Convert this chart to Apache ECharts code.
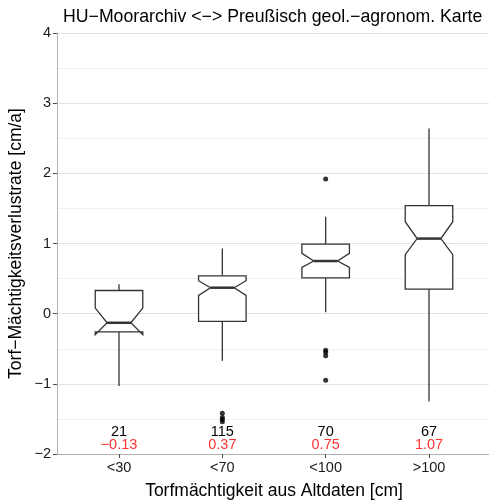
<!DOCTYPE html>
<html>
<head>
<meta charset="utf-8">
<script src="https://cdn.jsdelivr.net/npm/echarts@6/dist/echarts.min.js"></script>
<style>
  html, body { margin: 0; padding: 0; background: #fff; }
  #chart { width: 489px; height: 502px; }
</style>
</head>
<body>
<div id="chart"></div>
<script>
// Daten
const categories = ['<30', '<70', '<100', '>100'];
const whiskerLow = [-1.03, -0.67, 0.02, -1.25];
const lowerHinge = [-0.26, -0.11, 0.51, 0.35];
const medians = [-0.13, 0.37, 0.75, 1.07];
const upperHinge = [0.33, 0.54, 0.99, 1.54];
const whiskerHigh = [0.42, 0.93, 1.38, 2.64];
const notchLow = [-0.30, 0.26, 0.66, 0.84];
const notchHigh = [0.08, 0.47, 0.86, 1.31];
const counts = [21, 115, 70, 67];
// [Kategorie-Nr., Wert]
const outliers = [
    [2, -1.42], [2, -1.48], [2, -1.51], [2, -1.54],
    [3, 1.92], [3, -0.52], [3, -0.55], [3, -0.60], [3, -0.95]
];

const FONT = '"Liberation Sans", Arial, sans-serif';
const minus = s => String(s).replace('-', '\u2212');

const boxData = categories.map((c, i) => [
    i + 1, whiskerLow[i], lowerHinge[i], medians[i], upperHinge[i],
    whiskerHigh[i], notchLow[i], notchHigh[i]
]);
const labelData = categories.map((c, i) => [i + 1, counts[i], medians[i]]);

const chart = echarts.init(document.getElementById('chart'), null, { renderer: 'canvas' });

function renderBox(params, api) {
    const x = api.value(0);
    const w = api.size([0.46, 0])[0];
    const c = api.coord([x, 0])[0];
    const xmin = c - w / 2, xmax = c + w / 2, ind = w * 0.25;
    const py = v => api.coord([x, v])[1];
    const wl = py(api.value(1)), q1 = py(api.value(2)), md = py(api.value(3));
    const q3 = py(api.value(4)), wh = py(api.value(5));
    const nl = py(api.value(6)), nh = py(api.value(7));
    const stroke = { stroke: '#333333', lineWidth: 1.3 };
    return {
        type: 'group',
        children: [
            { type: 'line', shape: { x1: c, y1: q3, x2: c, y2: wh }, style: stroke },
            { type: 'line', shape: { x1: c, y1: q1, x2: c, y2: wl }, style: stroke },
            {
                type: 'polygon',
                shape: { points: [
                    [xmin, q3], [xmin, nh], [xmin + ind, md], [xmin, nl], [xmin, q1],
                    [xmax, q1], [xmax, nl], [xmax - ind, md], [xmax, nh], [xmax, q3]
                ] },
                style: { fill: '#ffffff', stroke: '#333333', lineWidth: 1.3 }
            },
            { type: 'line', shape: { x1: xmin + ind, y1: md, x2: xmax - ind, y2: md },
              style: { stroke: '#333333', lineWidth: 2.5 } }
        ]
    };
}

function renderLabels(params, api) {
    const x = api.value(0);
    const p1 = api.coord([x, -1.69]);
    const p2 = api.coord([x, -1.87]);
    return {
        type: 'group',
        children: [
            { type: 'text', x: p1[0], y: p1[1],
              style: { text: String(api.value(1)), fill: '#000', font: '14.5px ' + FONT,
                       align: 'center', verticalAlign: 'middle' } },
            { type: 'text', x: p2[0], y: p2[1],
              style: { text: minus(api.value(2).toFixed(2)), fill: '#ff3333', font: '14.5px ' + FONT,
                       align: 'center', verticalAlign: 'middle' } }
        ]
    };
}

chart.setOption({
    backgroundColor: '#ffffff',
    animation: false,
    textStyle: { fontFamily: FONT },
    title: {
        text: 'HU\u2212Moorarchiv <\u2212> Preußisch geol.\u2212agronom. Karte',
        left: 58, top: 3,
        textStyle: { fontSize: 17.7, fontWeight: 'normal', color: '#000', fontFamily: FONT }
    },
    grid: { left: 57, right: -2, top: 33, bottom: 48, containLabel: false, outerBoundsMode: 'none' },
    xAxis: {
        type: 'value', min: 0.4, max: 4.6,
        name: 'Torfmächtigkeit aus Altdaten [cm]',
        nameLocation: 'middle', nameGap: 28,
        nameTextStyle: { fontSize: 17.5, color: '#000' },
        axisLine: { show: true, onZero: false, lineStyle: { color: '#b3b3b3', width: 1 } },
        axisTick: { show: true, customValues: [1, 2, 3, 4], length: 4, lineStyle: { color: '#4d4d4d' } },
        axisLabel: {
            customValues: [1, 2, 3, 4], margin: 6, fontSize: 14.5, color: '#1a1a1a',
            formatter: v => categories[Math.round(v) - 1]
        },
        splitLine: { show: false }
    },
    yAxis: {
        type: 'value', min: -2, max: 4, interval: 1,
        name: 'Torf\u2212Mächtigkeitsverlustrate [cm/a]',
        nameLocation: 'middle', nameGap: 32, nameMoveOverlap: false,
        nameTextStyle: { fontSize: 17.5, color: '#000' },
        axisLine: { show: true, lineStyle: { color: '#b3b3b3', width: 1 } },
        axisTick: { show: true, length: 4, lineStyle: { color: '#4d4d4d' } },
        axisLabel: { margin: 6, fontSize: 14.5, color: '#1a1a1a', formatter: v => minus(v) },
        splitLine: { show: true, lineStyle: { color: '#e3e3e3', width: 1 } },
        minorTick: { show: false, splitNumber: 2 },
        minorSplitLine: { show: true, lineStyle: { color: '#f0f0f0', width: 1 } }
    },
    series: [
        {
            type: 'custom',
            renderItem: renderBox,
            encode: { x: 0, y: [1, 2, 3, 4, 5] },
            data: boxData,
            z: 3
        },
        {
            type: 'scatter',
            data: outliers,
            symbolSize: 5,
            itemStyle: { color: '#000' },
            z: 4
        },
        {
            type: 'custom',
            renderItem: renderLabels,
            encode: { x: 0 },
            data: labelData,
            z: 5
        }
    ]
});
</script>
</body>
</html>
